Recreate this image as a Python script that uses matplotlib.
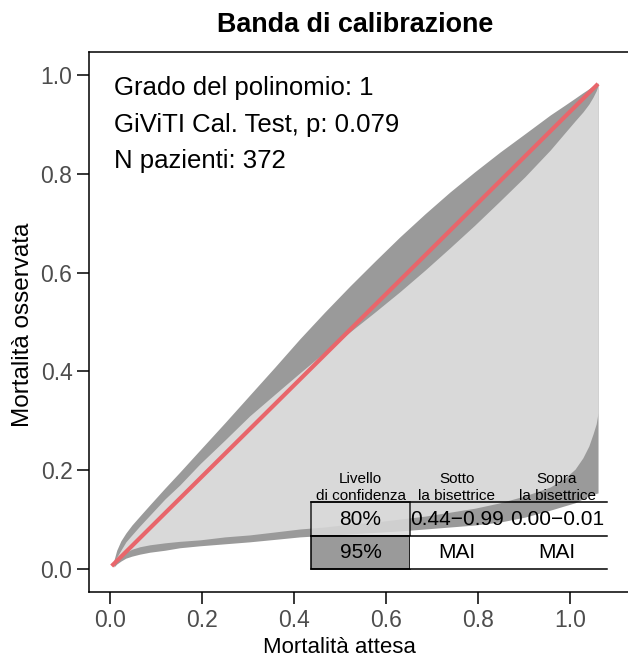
## Banda di calibrazione : GiViTI calibration belt ##
import matplotlib
matplotlib.use('Agg')
import matplotlib.pyplot as plt
from matplotlib.patches import Rectangle

plt.rcParams['font.family'] = ['Liberation Sans', 'DejaVu Sans']

##############################################################################
############################       Data         ##############################
##############################################################################
expected = [0.009, 0.015, 0.024, 0.035, 0.048, 0.065, 0.087, 0.120, 0.152,
            0.196, 0.250, 0.304, 0.359, 0.413, 0.467, 0.522, 0.576, 0.630,
            0.685, 0.739, 0.793, 0.848, 0.902, 0.957, 0.989, 1.011, 1.028,
            1.041, 1.050, 1.057, 1.061]
upper95 = [0.018, 0.038, 0.057, 0.073, 0.089, 0.107, 0.130, 0.164, 0.196,
           0.241, 0.296, 0.352, 0.409, 0.466, 0.520, 0.573, 0.623, 0.672,
           0.719, 0.763, 0.804, 0.844, 0.881, 0.919, 0.939, 0.953, 0.964,
           0.972, 0.978, 0.981, 0.984]
upper80 = [0.012, 0.024, 0.038, 0.055, 0.069, 0.087, 0.109, 0.142, 0.170,
           0.213, 0.261, 0.310, 0.354, 0.397, 0.439, 0.480, 0.520, 0.561,
           0.605, 0.650, 0.696, 0.745, 0.794, 0.848, 0.883, 0.907, 0.925,
           0.941, 0.955, 0.968, 0.978]
lower80 = [0.008, 0.018, 0.026, 0.034, 0.040, 0.045, 0.049, 0.053, 0.056,
           0.059, 0.065, 0.069, 0.075, 0.081, 0.085, 0.091, 0.095, 0.101,
           0.107, 0.115, 0.123, 0.134, 0.148, 0.166, 0.184, 0.202, 0.225,
           0.249, 0.273, 0.294, 0.316]
lower95 = [0.004, 0.010, 0.016, 0.022, 0.026, 0.030, 0.034, 0.038, 0.043,
           0.047, 0.051, 0.055, 0.060, 0.065, 0.068, 0.071, 0.074, 0.077,
           0.081, 0.085, 0.089, 0.095, 0.105, 0.119, 0.128, 0.134, 0.142,
           0.148, 0.151, 0.153, 0.154]

bisector_x = [0.004, 1.061]
bisector_y = [0.006, 0.982]

info_lines = ['Grado del polinomio: 1', 'GiViTI Cal. Test, p: 0.079', 'N pazienti: 372']
headers_top = ['Livello', 'Sotto', 'Sopra']
headers_bot = ['di confidenza', 'la bisettrice', 'la bisettrice']
levels = ['80%', '95%']
under = ['0.44\u22120.99', 'MAI']
over = ['0.00\u22120.01', 'MAI']

ticks = [0.0, 0.2, 0.4, 0.6, 0.8, 1.0]

dark = '#9a9a9a'
light = '#d9d9d9'
red = '#e8666b'
ink = '#4d4d4d'

##############################################################################
############################       Figure       ##############################
##############################################################################
fig = plt.figure(figsize=(6.28, 6.57), dpi=100)
ax = fig.add_axes([0.1422, 0.0989, 0.92, 0.822])
ax.set_xlim(-0.0446, (0.1422 + 0.92) * 628 / 460 - 110 / 460)
ax.set_ylim(-0.0466, 1.0466)

# belt: 95% first, 80% on top
ax.fill_between(expected, lower95, upper95, color=dark, lw=0)
ax.fill_between(expected, lower80, upper80, color=light, lw=0)
ax.plot(bisector_x, bisector_y, color=red, lw=3.0, solid_capstyle='butt')

# text box in the top left
for i, line in enumerate(info_lines):
    ax.text(0.009, 0.9595 - i * 0.0739, line, fontsize=18.5, ha='left', va='baseline')

# summary table in the bottom right
x_left, x_col, x_right = 0.437, 0.652, 1.080
row_top, row_mid, row_bot = 0.1356, 0.0668, 0.0
col_centers = [0.545, 0.754, 0.972]
for cx, h1, h2 in zip(col_centers, headers_top, headers_bot):
    ax.text(cx, 0.1745, h1, fontsize=11, ha='center', va='baseline')
    ax.text(cx, 0.1405, h2, fontsize=11, ha='center', va='baseline')
ax.add_patch(Rectangle((x_left, row_mid), x_col - x_left, row_top - row_mid,
                       facecolor=light, edgecolor='black', lw=1.1, alpha=0.85))
ax.add_patch(Rectangle((x_left, row_bot), x_col - x_left, row_mid - row_bot,
                       facecolor=dark, edgecolor='black', lw=1.1))
ax.add_patch(Rectangle((x_col, row_bot), x_right - x_col, row_mid - row_bot,
                       facecolor='white', edgecolor='none', clip_on=False))
for yy in [row_top, row_mid, row_bot]:
    ax.plot([x_left, x_right], [yy, yy], color='black', lw=1.1, clip_on=False)
row_centers = [(row_top + row_mid) / 2, (row_mid + row_bot) / 2]
for j in range(2):
    ax.text(col_centers[0], row_centers[j], levels[j], fontsize=15, ha='center', va='center')
    ax.text(col_centers[1], row_centers[j], under[j], fontsize=15, ha='center', va='center')
    ax.text(col_centers[2], row_centers[j], over[j], fontsize=15, ha='center', va='center')

# axes in R style
ax.spines['right'].set_visible(False)
for s in ['left', 'bottom', 'top']:
    ax.spines[s].set_linewidth(1.1)
ax.set_xticks(ticks)
ax.set_yticks(ticks)
ax.set_xticklabels(['%.1f' % t for t in ticks])
ax.set_yticklabels(['%.1f' % t for t in ticks])
ax.tick_params(direction='out', length=8.6, width=1.1, labelsize=16.5,
               labelcolor=ink, pad=3.5)

fig.text(0.565, 0.951, 'Banda di calibrazione', fontsize=19.4, fontweight='bold',
         ha='center', va='baseline')
fig.text(0.541, 0.006, 'Mortalit\u00e0 attesa', fontsize=16, ha='center', va='baseline')
fig.text(0.0366, 0.505, 'Mortalit\u00e0 osservata', fontsize=17.5, rotation=90,
         ha='center', va='center')

fig.savefig('out.png', dpi=100)
